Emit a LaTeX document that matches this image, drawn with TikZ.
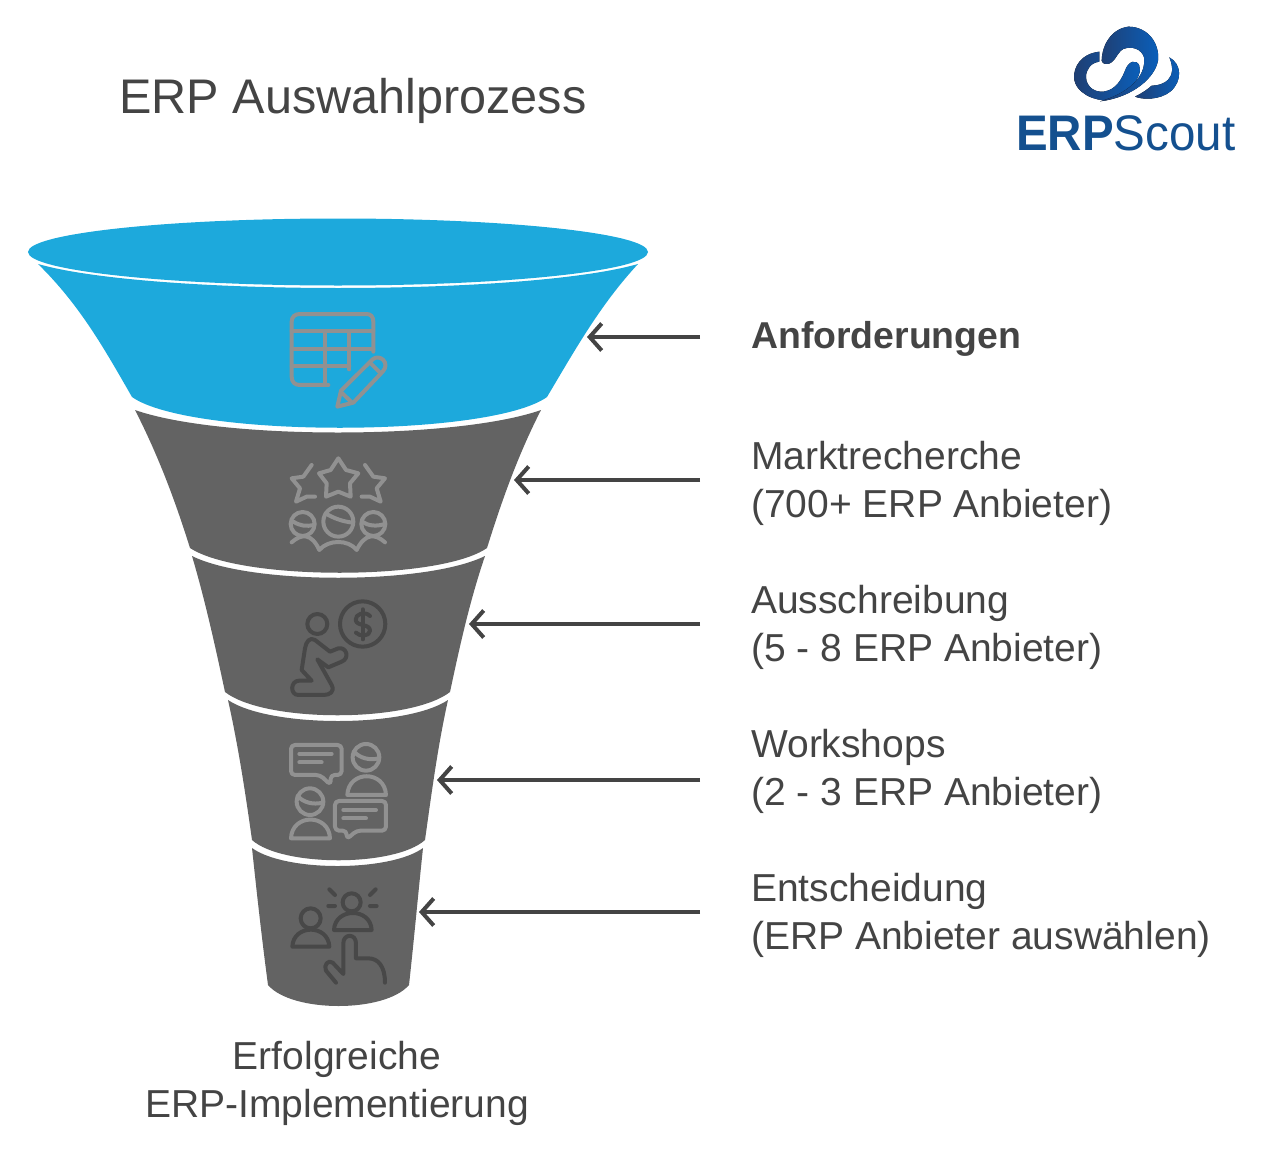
\documentclass[tikz,border=0pt]{standalone}
\usepackage{fontspec}
\setmainfont{Liberation Sans}
\usetikzlibrary{arrows.meta}
\definecolor{fblue}{HTML}{1DA9DC}
\definecolor{fgray}{HTML}{636363}
\definecolor{txt}{HTML}{444444}
\definecolor{iconlight}{HTML}{919191}
\definecolor{icondark}{HTML}{484848}
\definecolor{logoA}{HTML}{1F3F73}
\definecolor{logoB}{HTML}{0A60BC}
\definecolor{logoT}{HTML}{14508F}
\tikzset{
  x=1pt,y=-1pt,
  label/.style={text=txt,anchor=west,align=left,inner sep=0pt,font=\fontsize{39}{48}\selectfont},
  conn/.style={draw=txt,line width=4pt,-{Straight Barb[length=12pt,width=27pt,line width=4pt]}},
  iconl/.style={draw=iconlight,line width=4pt,line cap=round,line join=round},
  icond/.style={draw=icondark,line width=4pt,line cap=round,line join=round},
  logo/.style={shading=axis,left color=logoA,right color=logoB,draw=none},
}
\begin{document}
\begin{tikzpicture}
\useasboundingbox (0,0) rectangle (1265,1153);
% funnel
\fill[fblue] (338,252) ellipse [x radius=310,y radius=33.5];
\fill[fblue] (38,264) .. controls (150,296) and (526,296) .. (638,264)
  .. controls (600,305) and (575,350) .. (547,397)
  .. controls (490,438) and (190,438) .. (132,397)
  .. controls (105,350) and (80,305) .. (38,264) -- cycle;
\fill[fgray] (135,410) .. controls (220,440) and (456,440) .. (541,410)
  .. controls (518,455) and (502,500) .. (487,548)
  .. controls (440,581) and (240,581) .. (190,548)
  .. controls (175,500) and (158,455) .. (135,410) -- cycle;
\fill[fgray] (192,556) .. controls (250,585) and (426,585) .. (485,556)
  .. controls (470,600) and (460,645) .. (450,692)
  .. controls (410,723) and (265,723) .. (225,692)
  .. controls (215,645) and (205,600) .. (192,556) -- cycle;
\fill[fgray] (228,700) .. controls (270,728) and (406,728) .. (448,700)
  .. controls (438,745) and (432,790) .. (425,840)
  .. controls (395,867) and (282,867) .. (252,840)
  .. controls (245,790) and (238,745) .. (228,700) -- cycle;
\fill[fgray] (252,848) .. controls (285,872) and (390,872) .. (423,848)
  .. controls (418,895) and (414,940) .. (409,985)
  .. controls (385,1013) and (292,1013) .. (268,985)
  .. controls (262,940) and (257,895) .. (252,848) -- cycle;
% icon 1
\begin{scope}[shift={(260,300)},x=0.3333pt,y=-0.3333pt]
\draw[iconl] (340,155) -- (340,65) .. controls (340,50) and (332,42) .. (320,42) -- (120,42)
  .. controls (105,42) and (95,50) .. (95,65) -- (95,230) .. controls (95,247) and (105,255) .. (120,255) -- (205,255);
\draw[iconl] (95,93) -- (340,93) (95,147) -- (340,147) (95,198) -- (268,198)
  (195,93) -- (195,255) (268,93) -- (268,208);
\draw[iconl] (232,320) -- (243,272) -- (338,178) .. controls (360,160) and (392,190) .. (368,215) -- (280,308) -- cycle;
\draw[iconl] (330,188) -- (362,220) (245,278) -- (274,306);
\end{scope}
% icon 2
\begin{scope}[shift={(260,300)},x=0.3333pt,y=-0.3333pt]
\draw[iconl] (235,475) -- (258,510) -- (295,520) -- (270,550) -- (272,590) -- (235,575) -- (198,590) -- (200,550) -- (177,520) -- (212,510) -- cycle;
\draw[iconl] (155,495) -- (130,530) -- (95,535) -- (120,565) -- (108,605) -- (140,590) -- (165,590);
\draw[iconl] (315,495) -- (340,530) -- (375,535) -- (350,565) -- (362,605) -- (330,590) -- (305,590);
\draw[iconl] (128,672) circle [radius=36] (235,665) circle [radius=45] (340,672) circle [radius=36];
\draw[iconl] (100,665) .. controls (120,678) and (140,680) .. (162,675);
\draw[iconl] (197,640) .. controls (220,655) and (250,665) .. (278,668);
\draw[iconl] (306,665) .. controls (325,678) and (350,680) .. (374,672);
\draw[iconl] (95,727) .. controls (125,700) and (155,700) .. (178,750) .. controls (205,718) and (265,718) .. (290,750) .. controls (315,700) and (345,700) .. (375,727);
\end{scope}
% icon 3
\begin{scope}[shift={(260,590)},x=0.3333pt,y=-0.3333pt]
\draw[icond] (308,102) circle [radius=68] (172,102) circle [radius=30];
\draw[icond] (330,78) .. controls (315,62) and (285,72) .. (287,90) .. controls (290,110) and (330,100) .. (330,122) .. controls (330,140) and (298,140) .. (288,128);
\draw[icond] (308,58) -- (308,148);
\draw[icond] (165,150) -- (210,185) -- (235,175) .. controls (260,170) and (270,205) .. (245,215) -- (205,232) -- (172,208) -- (215,285)
  .. controls (225,305) and (210,315) .. (190,315) -- (115,315) .. controls (90,315) and (90,272) .. (118,272) -- (155,272) -- (125,240) -- (135,175) .. controls (138,155) and (150,140) .. (165,150) -- cycle;
\end{scope}
% icon 4
\begin{scope}[shift={(260,590)},x=0.3333pt,y=-0.3333pt]
\draw[iconl,rounded corners=4pt] (180,555) -- (93,555) -- (93,465) -- (245,465) -- (245,555) -- (212,555) -- (212,585) -- cycle;
\draw[iconl] (118,492) -- (215,492) (118,517) -- (185,517);
\draw[iconl] (318,502) circle [radius=40] (150,635) circle [radius=40];
\draw[iconl] (282,485) .. controls (300,505) and (330,512) .. (356,505);
\draw[iconl] (113,618) .. controls (130,638) and (160,645) .. (188,638);
\draw[iconl] (262,615) .. controls (265,540) and (375,540) .. (378,615) -- cycle;
\draw[iconl] (93,745) .. controls (96,670) and (207,670) .. (210,745) -- cycle;
\draw[iconl,rounded corners=4pt] (225,722) -- (225,633) -- (378,633) -- (378,722) -- (290,722) -- (260,748) -- (260,722) -- cycle;
\draw[iconl] (250,660) -- (348,660) (250,685) -- (318,685);
\end{scope}
% icon 5
\begin{scope}[shift={(260,850)},x=0.3333pt,y=-0.3333pt]
\draw[icond] (275,157) circle [radius=27] (152,205) circle [radius=30];
\draw[icond] (222,240) .. controls (225,172) and (332,172) .. (335,240) -- cycle;
\draw[icond] (97,290) .. controls (100,222) and (205,222) .. (208,290) -- cycle;
\draw[icond] (208,118) -- (225,135) (347,118) -- (330,135) (205,168) -- (225,168) (330,168) -- (350,168);
\draw[icond] (228,398) -- (198,362) .. controls (190,345) and (205,328) .. (218,338) -- (250,372) -- (250,280)
  .. controls (250,250) and (288,250) .. (288,280) -- (288,325) -- (325,325) .. controls (355,325) and (375,350) .. (375,398);
\end{scope}
% texts
\node[label,font=\fontsize{48.6}{50}\selectfont] (title) at (119,101) {ERP Auswahlprozess};
\node[label,font=\fontsize{37.4}{48}\selectfont\bfseries] (l1) at (751,339) {Anforderungen};
\node[label] (l2) at (751,483) {Marktrecherche\\(700+ ERP Anbieter)};
\node[label] (l3) at (751,627) {Ausschreibung\\(5 - 8 ERP Anbieter)};
\node[label] (l4) at (751,771) {Workshops\\(2 - 3 ERP Anbieter)};
\node[label] (l5) at (751,915) {Entscheidung\\(ERP Anbieter auswählen)};
\node[label,anchor=center,align=center] (bottom) at (337,1083) {Erfolgreiche\\ERP-Implementierung};
% connectors
\coordinate (s1) at (700,337); \coordinate (t1) at (587,337);
\coordinate (s2) at (700,480); \coordinate (t2) at (514,480);
\coordinate (s3) at (700,624); \coordinate (t3) at (469,624);
\coordinate (s4) at (700,780); \coordinate (t4) at (437,780);
\coordinate (s5) at (700,912); \coordinate (t5) at (419,912);
\foreach \i in {1,...,5} \draw[conn] (s\i) -- (t\i);
% logo
\begin{scope}[shift={(1000,14)},x=0.3333pt,y=-0.3333pt]
\fill[logo] (298,113) .. controls (240,120) and (222,160) .. (222,190) .. controls (225,240) and (290,262) .. (320,258)
 .. controls (380,245) and (430,190) .. (418,155) .. controls (410,135) and (385,140) .. (375,170)
 .. controls (360,210) and (335,235) .. (300,233) .. controls (265,230) and (250,195) .. (262,170)
 .. controls (270,150) and (285,145) .. (298,143) -- cycle;
\fill[logo] (305,140) .. controls (305,100) and (330,45) .. (385,38) .. controls (445,38) and (480,90) .. (474,140)
 .. controls (465,190) and (400,250) .. (300,262) .. controls (380,240) and (440,190) .. (432,130)
 .. controls (425,105) and (395,95) .. (370,105) .. controls (350,115) and (345,150) .. (320,150)
 .. controls (310,150) and (305,145) .. (305,140) -- cycle;
\fill[logo] (508,130) .. controls (545,150) and (548,200) .. (512,232) .. controls (480,258) and (430,258) .. (405,248)
 .. controls (425,238) and (445,225) .. (455,215) .. controls (490,215) and (535,195) .. (508,130) -- cycle;
\end{scope}
\node[anchor=west,inner sep=0pt,text=logoT,xscale=0.95,font=\fontsize{50}{50}\selectfont] (logotext) at (1016,133) {\textbf{ERP}Scout};
\end{tikzpicture}
\end{document}
